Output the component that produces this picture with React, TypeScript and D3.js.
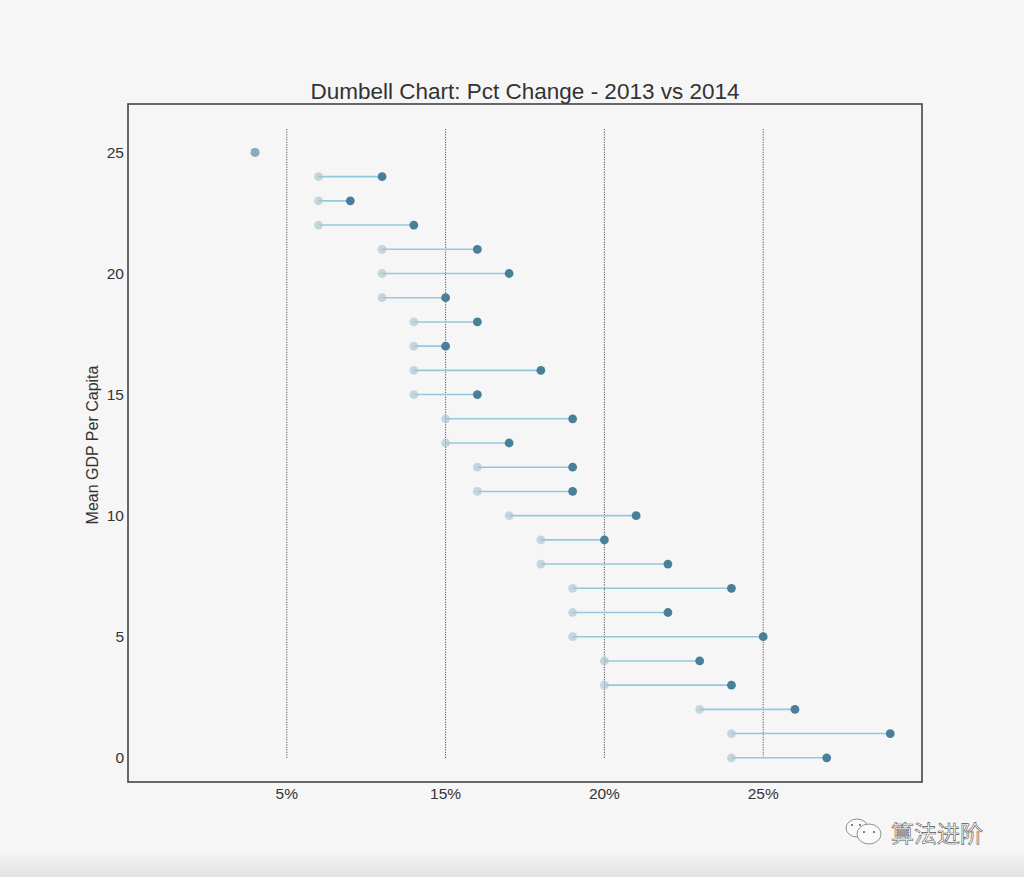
import React, { useEffect, useRef } from 'react';
import * as d3 from 'd3';

// row index (y), 2013 and 2014 percentage change
const rows = d3.range(0, 26);
const pct2013 = [
  0.19, 0.19, 0.18, 0.15, 0.15, 0.14, 0.14, 0.14, 0.13, 0.13,
  0.12, 0.11, 0.11, 0.10, 0.10, 0.09, 0.09, 0.09, 0.09, 0.08,
  0.08, 0.08, 0.06, 0.06, 0.06, 0.04,
];
const pct2014 = [
  0.22, 0.24, 0.21, 0.19, 0.18, 0.20, 0.17, 0.19, 0.17, 0.15,
  0.16, 0.14, 0.14, 0.12, 0.14, 0.11, 0.13, 0.10, 0.11, 0.10,
  0.12, 0.11, 0.09, 0.07, 0.08, 0.04,
];
const xTicks = [0.05, 0.1, 0.15, 0.2];
const xTickLabels = ['5%', '15%', '20%', '25%'];
const yTicks = [0, 5, 10, 15, 20, 25];

const W = 1024;
const H = 877;
const FONT = '"Liberation Sans", Arial, Helvetica, sans-serif';

export default function App() {
  const svgRef = useRef<SVGSVGElement>(null);

  useEffect(() => {
    if (!svgRef.current) return;
    const svg = d3.select(svgRef.current);
    svg.selectAll('*').remove();

    const margin = { top: 104, right: 102, bottom: 95, left: 128 };
    const x = d3.scaleLinear().domain([0, 0.25]).range([margin.left, W - margin.right]);
    const y = d3.scaleLinear().domain([-1, 27]).range([H - margin.bottom, margin.top]);

    // page background
    svg.append('rect').attr('width', W).attr('height', H).attr('fill', '#f6f6f6');
    const grad = svg.append('defs').append('linearGradient')
      .attr('id', 'shade').attr('x1', 0).attr('y1', 0).attr('x2', 0).attr('y2', 1);
    grad.append('stop').attr('offset', '0%').attr('stop-color', '#f6f6f6');
    grad.append('stop').attr('offset', '100%').attr('stop-color', '#e2e2e2');
    svg.append('rect').attr('x', 0).attr('y', 850).attr('width', W).attr('height', 27)
      .attr('fill', 'url(#shade)');

    const g = svg.append('g');

    // vertical reference lines
    g.selectAll('line.vl')
      .data(xTicks)
      .join('line')
      .attr('class', 'vl')
      .attr('x1', d => x(d)).attr('x2', d => x(d))
      .attr('y1', y(0)).attr('y2', y(26))
      .attr('stroke', '#333')
      .attr('stroke-width', 1)
      .attr('stroke-dasharray', '1,1.5');

    // connecting lines
    g.selectAll('line.seg')
      .data(rows)
      .join('line')
      .attr('class', 'seg')
      .attr('x1', i => x(pct2013[i])).attr('x2', i => x(pct2014[i]))
      .attr('y1', i => y(i)).attr('y2', i => y(i))
      .attr('stroke', '#93c9df')
      .attr('stroke-width', 1.6);

    // 2014 points
    g.selectAll('circle.p14')
      .data(rows)
      .join('circle')
      .attr('class', 'p14')
      .attr('cx', i => x(pct2014[i]))
      .attr('cy', i => y(i))
      .attr('r', 4.4)
      .attr('fill', '#4a7f99');

    // 2013 points
    g.selectAll('circle.p13')
      .data(rows)
      .join('circle')
      .attr('class', 'p13')
      .attr('cx', i => x(pct2013[i]))
      .attr('cy', i => y(i))
      .attr('r', 4.4)
      .attr('fill', '#acc3cd')
      .attr('fill-opacity', 0.65);

    // frame
    svg.append('rect')
      .attr('x', margin.left).attr('y', margin.top)
      .attr('width', W - margin.left - margin.right)
      .attr('height', H - margin.top - margin.bottom)
      .attr('fill', 'none')
      .attr('stroke', '#444')
      .attr('stroke-width', 1.6);

    // y axis labels
    svg.append('g')
      .selectAll('text')
      .data(yTicks)
      .join('text')
      .attr('x', margin.left - 4)
      .attr('y', d => y(d))
      .attr('dy', '0.36em')
      .attr('text-anchor', 'end')
      .attr('font-family', FONT)
      .attr('font-size', 15.5)
      .attr('fill', '#333')
      .text(d => d);

    // x axis labels
    svg.append('g')
      .selectAll('text')
      .data(xTicks)
      .join('text')
      .attr('x', d => x(d))
      .attr('y', 799)
      .attr('text-anchor', 'middle')
      .attr('font-family', FONT)
      .attr('font-size', 15.5)
      .attr('fill', '#333')
      .text((d, i) => xTickLabels[i]);

    svg.append('text')
      .attr('transform', `translate(98,${(365 + 525) / 2}) rotate(-90)`)
      .attr('text-anchor', 'middle')
      .attr('font-family', FONT)
      .attr('font-size', 16)
      .attr('fill', '#333')
      .text('Mean GDP Per Capita');

    svg.append('text')
      .attr('x', (margin.left + W - margin.right) / 2)
      .attr('y', 99)
      .attr('text-anchor', 'middle')
      .attr('font-family', FONT)
      .attr('font-size', 22.5)
      .attr('fill', '#333')
      .text('Dumbell Chart: Pct Change - 2013 vs 2014');

    // watermark
    const wm = svg.append('g').attr('fill', '#fafafa').attr('stroke', '#777').attr('stroke-width', 0.8);
    wm.append('ellipse').attr('cx', 857).attr('cy', 828).attr('rx', 11).attr('ry', 9);
    wm.append('ellipse').attr('cx', 869).attr('cy', 834).attr('rx', 12).attr('ry', 10);
    svg.append('g').attr('fill', '#666')
      .selectAll('circle')
      .data([[864, 832], [874, 832], [852, 825], [860, 825]])
      .join('circle')
      .attr('cx', d => d[0]).attr('cy', d => d[1]).attr('r', 1.1);
    svg.append('text')
      .attr('x', 891).attr('y', 842)
      .attr('font-family', '"Noto Sans CJK SC", sans-serif')
      .attr('font-size', 23)
      .attr('fill', '#ffffff')
      .attr('stroke', '#555')
      .attr('stroke-width', 0.6)
      .text('算法进阶');
  }, []);

  return (
    <div style={{ position: 'absolute', left: 0, top: 0 }}>
      <svg ref={svgRef} width={W} height={H} style={{ display: 'block' }}></svg>
    </div>
  );
}
